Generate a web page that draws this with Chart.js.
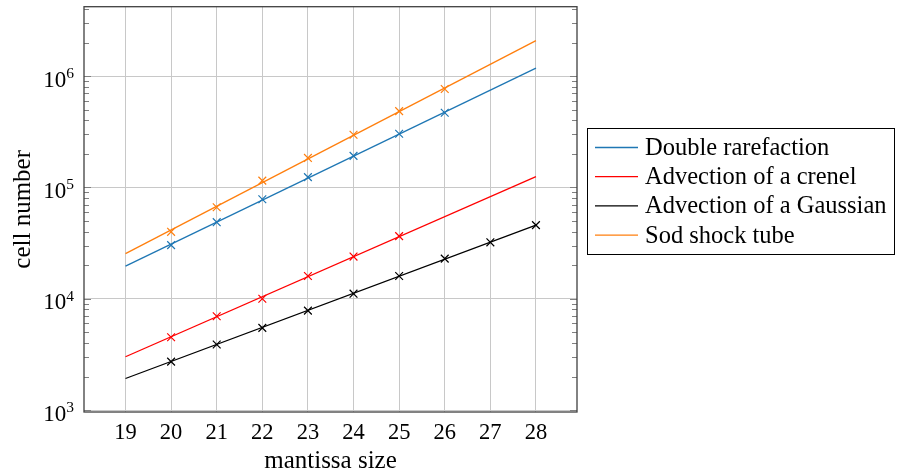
<!DOCTYPE html>
<html>
<head>
<meta charset="utf-8">
<script src="https://cdn.jsdelivr.net/npm/chart.js@4"></script>
<style>
  html, body { margin: 0; padding: 0; background: #fff; }
  #wrap { width: 897px; height: 473px; }
</style>
</head>
<body>
<div id="wrap"><canvas id="chart" width="897" height="473"></canvas></div>
<script>
// x axis
const mantissaTicks = [19, 20, 21, 22, 23, 24, 25, 26, 27, 28];
const fitX = [19, 28];
const yTicks = [1e3, 1e4, 1e5, 1e6];

// fitted lines (value at 19 and 28)
const rarefactionFit = [19600, 1180000];
const crenelFit = [3010, 125000];
const gaussianFit = [1920, 45800];
const sodFit = [25400, 2080000];

// measured points
const rarefactionX = [20, 21, 22, 23, 24, 25, 26];
const rarefactionPts = [30300, 48700, 78200, 123600, 192000, 303000, 468000];
const crenelX = [20, 21, 22, 23, 24, 25];
const crenelPts = [4510, 6950, 10000, 16000, 23900, 36500];
const gaussianX = [20, 21, 22, 23, 24, 25, 26, 27, 28];
const gaussianPts = [2720, 3880, 5470, 7820, 11100, 16000, 22900, 32100, 45800];
const sodX = [20, 21, 22, 23, 24, 25, 26];
const sodPts = [39900, 66300, 115000, 184000, 297000, 484000, 766000];

const FONT = '"Liberation Serif", "Times New Roman", serif';

const toXY = (xs, ys) => xs.map((x, i) => ({ x: x, y: ys[i] }));

const series = [
  { label: "Double rarefaction", color: "#1f77b4", fit: rarefactionFit, xs: rarefactionX, pts: rarefactionPts },
  { label: "Advection of a crenel", color: "#ff0000", fit: crenelFit, xs: crenelX, pts: crenelPts },
  { label: "Advection of a Gaussian", color: "#000000", fit: gaussianFit, xs: gaussianX, pts: gaussianPts },
  { label: "Sod shock tube", color: "#ff7f0e", fit: sodFit, xs: sodX, pts: sodPts }
];

const datasets = [];
series.forEach(s => {
  datasets.push({
    label: s.label,
    data: toXY(fitX, s.fit),
    borderColor: s.color,
    backgroundColor: s.color,
    borderWidth: 1.3,
    pointRadius: 0,
    showLine: true,
    isFit: true
  });
  datasets.push({
    label: s.label + " points",
    data: toXY(s.xs, s.pts),
    borderColor: s.color,
    backgroundColor: s.color,
    borderWidth: 1.2,
    pointStyle: "crossRot",
    pointRadius: 5.5,
    showLine: false
  });
});

// frame, minor ticks, y labels and legend
const decor = {
  id: "decor",
  afterDraw(chart) {
    const ctx = chart.ctx;
    const a = chart.chartArea;
    const y = chart.scales.y;
    ctx.save();

    // minor and major ticks on both sides
    ctx.strokeStyle = "#808080";
    ctx.lineWidth = 1;
    for (let e = 2; e <= 6; e++) {
      for (let m = 1; m <= 9; m++) {
        const v = m * Math.pow(10, e);
        if (v < y.min || v > y.max) continue;
        const py = Math.round(y.getPixelForValue(v)) + 0.5;
        const len = m === 1 ? 7 : 5;
        ctx.beginPath();
        ctx.moveTo(a.left, py); ctx.lineTo(a.left + len, py);
        ctx.moveTo(a.right, py); ctx.lineTo(a.right - len, py);
        ctx.stroke();
      }
    }

    // frame
    ctx.strokeStyle = "#404040";
    ctx.lineWidth = 1.3;
    ctx.strokeRect(a.left, a.top, a.right - a.left, a.bottom - a.top);

    // y tick labels 10^n
    ctx.fillStyle = "#000";
    ctx.textBaseline = "alphabetic";
    yTicks.forEach(v => {
      const py = y.getPixelForValue(v);
      const exp = String(Math.round(Math.log10(v)));
      ctx.font = "15.5px " + FONT;
      const ew = ctx.measureText(exp).width;
      const right = a.left - 10;
      ctx.textAlign = "left";
      ctx.fillText(exp, right - ew, py + 2);
      ctx.font = "23px " + FONT;
      ctx.textAlign = "right";
      ctx.fillText("10", right - ew, py + 10.5);
    });

    // legend
    const box = { x: 587.5, y: 128.5, w: 307, h: 126 };
    ctx.fillStyle = "#fff";
    ctx.fillRect(box.x, box.y, box.w, box.h);
    ctx.strokeStyle = "#000";
    ctx.lineWidth = 1;
    ctx.strokeRect(box.x, box.y, box.w, box.h);
    ctx.font = "24.5px " + FONT;
    ctx.textAlign = "left";
    ctx.textBaseline = "middle";
    chart.data.datasets.filter(d => d.isFit).forEach((d, i) => {
      const ry = 147.5 + i * 29.2;
      ctx.strokeStyle = d.borderColor;
      ctx.lineWidth = 1.3;
      ctx.beginPath();
      ctx.moveTo(595, ry); ctx.lineTo(638, ry);
      ctx.stroke();
      ctx.fillStyle = "#000";
      ctx.fillText(d.label, 645, ry + 1);
    });
    ctx.restore();
  }
};

new Chart(document.getElementById("chart"), {
  type: "scatter",
  data: { datasets: datasets },
  options: {
    responsive: false,
    animation: false,
    layout: { padding: { left: 0, right: 320, top: 5, bottom: 0 } },
    plugins: {
      legend: { display: false },
      tooltip: { enabled: false }
    },
    scales: {
      x: {
        type: "linear",
        min: 18.09,
        max: 28.9,
        afterBuildTicks: (s) => { s.ticks = mantissaTicks.map(v => ({ value: v })); },
        afterFit: (s) => { s.height = 61; },
        grid: { color: "#c8c8c8", lineWidth: 1, drawTicks: false },
        border: { display: false },
        ticks: {
          color: "#000",
          padding: 8,
          font: { family: FONT, size: 22.5 },
          callback: (v) => String(v)
        },
        title: {
          display: true,
          text: "mantissa size",
          color: "#000",
          font: { family: FONT, size: 25 },
          padding: { top: 0, bottom: -3 }
        }
      },
      y: {
        type: "logarithmic",
        min: 960,
        max: 4200000,
        afterBuildTicks: (s) => { s.ticks = yTicks.map(v => ({ value: v })); },
        afterFit: (s) => { s.width = 84; },
        grid: { color: "#c8c8c8", lineWidth: 1, drawTicks: false },
        border: { display: false },
        ticks: { display: false },
        title: {
          display: true,
          text: "cell number",
          color: "#000",
          font: { family: FONT, size: 25 },
          padding: { top: 8, bottom: 0 }
        }
      }
    }
  },
  plugins: [decor]
});
</script>
</body>
</html>
